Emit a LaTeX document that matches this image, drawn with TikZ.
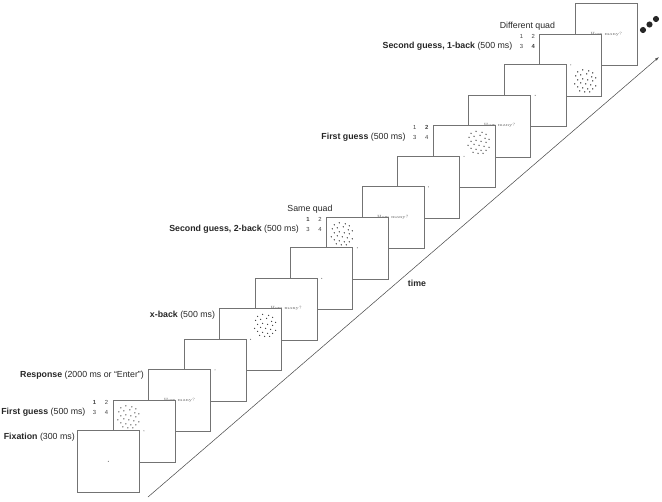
\documentclass[tikz,border=0pt]{standalone}
\usepackage{fontspec}
\setsansfont{Liberation Sans}
\usetikzlibrary{arrows.meta, positioning, calc}

\begin{document}
\begin{tikzpicture}[
    x=0.75pt, y=-0.75pt,
    screen/.style={draw=black!55, line width=0.5pt, fill=white, minimum size=46.5pt, inner sep=0pt, anchor=north west},
    lbl/.style={font=\sffamily\fontsize{6.6}{8}\selectfont, inner sep=0pt, text=black!85},
    quad/.style={font=\sffamily\fontsize{4.4}{7.5}\selectfont, align=center, inner sep=0pt, text=black!75},
    ask/.style={font=\fontsize{3.4}{4}\selectfont, inner sep=0pt, text=black!60},
    arrow/.style={-{Latex[length=3pt,width=2pt]}, line width=0.4pt, black!70}
]
\useasboundingbox (0,0) rectangle (662,501);

% Screens, back to front
\foreach \i/\k/\qx/\qy in {15/0/0/0, 14/2/1/1, 13/1/0/0, 12/0/0/0, 11/2/1/-1, 10/1/0/0,
                            9/0/0/0, 8/2/-1/-1, 7/1/0/0, 6/0/0/0, 5/2/1/-1, 4/1/0/0,
                            3/0/0/0, 2/2/-1/-1, 1/1/0/0} {
    \node[screen] (s\i) at ({77+35.57*(\i-1)}, {430-30.5*(\i-1)}) {};
    \ifcase\k
        \node[ask] (ask\i) at (s\i.center) {How many?};
    \or
        \fill[black!60] (s\i.center) circle[radius=0.4pt];
    \or
        \fill[black!60] (s\i.center) circle[radius=0.4pt];
        \foreach \dx/\dy in {-8/-8, -3/-10, 3/-9, 7/-7, -10/-4, -5/-5, 1/-6, 6/-3, 10/-2,
                             -8/0, -3/-1, 2/0, 7/1, -11/4, -5/3, 0/4, 5/5, 10/6,
                             -8/7, -3/8, 2/9, 7/9, -1/12, 4/12, -6/11}
            \fill[black!80] ($(s\i.center)+({15*\qx+\dx},{15*\qy+\dy})$) circle[radius=0.5pt];
    \fi
}

% Quadrant numbers
\node[quad] (q2) at ($(s2.north west)+(-12,7.5)$) {\textbf{1}\hspace{6.5pt}2\\3\hspace{6.5pt}4};
\node[quad] (q8) at ($(s8.north west)+(-12,7.5)$) {\textbf{1}\hspace{6.5pt}2\\3\hspace{6.5pt}4};
\node[quad] (q11) at ($(s11.north west)+(-12,7.5)$) {1\hspace{6.5pt}\textbf{2}\\3\hspace{6.5pt}4};
\node[quad] (q14) at ($(s14.north west)+(-12,7.5)$) {1\hspace{6.5pt}2\\3\hspace{6.5pt}\textbf{4}};

% Labels
\node[lbl, anchor=east] (fix1) at ($(s1.north west)+(-2,7)$) {\textbf{Fixation} (300 ms)};
\node[lbl, anchor=base east] (guess1) at ($(q2.base west)+(-7,0)$) {\textbf{First guess} (500 ms)};
\node[lbl, anchor=east] (resp) at ($(s3.north west)+(-4,6)$) {\textbf{Response} (2000 ms or “Enter”)};
\node[lbl, anchor=east] (xback) at ($(s5.north west)+(-4,7)$) {\textbf{x-back} (500 ms)};
\node[lbl, anchor=base east] (guess2) at ($(q8.base west)+(-7,0)$) {\textbf{Second guess, 2-back} (500 ms)};
\node[lbl, above=2.5pt of q8, xshift=-3pt] (same) {Same quad};
\node[lbl, anchor=base east] (guess3) at ($(q11.base west)+(-7,0)$) {\textbf{First guess} (500 ms)};
\node[lbl, anchor=base east] (guess4) at ($(q14.base west)+(-7,0)$) {\textbf{Second guess, 1-back} (500 ms)};
\node[lbl, above=2.5pt of q14] (diff) {Different quad};

% More trials
\foreach \n/\x/\y in {1/643/30, 2/649.5/24.5, 3/656/19}
    \node[circle, fill=black!85, inner sep=0pt, minimum size=4.6pt] (more\n) at (\x,\y) {};

% Time axis
\coordinate (t0) at (148,497);
\coordinate (t1) at (659,57);
\draw[arrow] (t0) -- (t1);
\node[lbl, font=\sffamily\bfseries\fontsize{6.6}{8}\selectfont] (time) at (417,283) {time};
\end{tikzpicture}
\end{document}
